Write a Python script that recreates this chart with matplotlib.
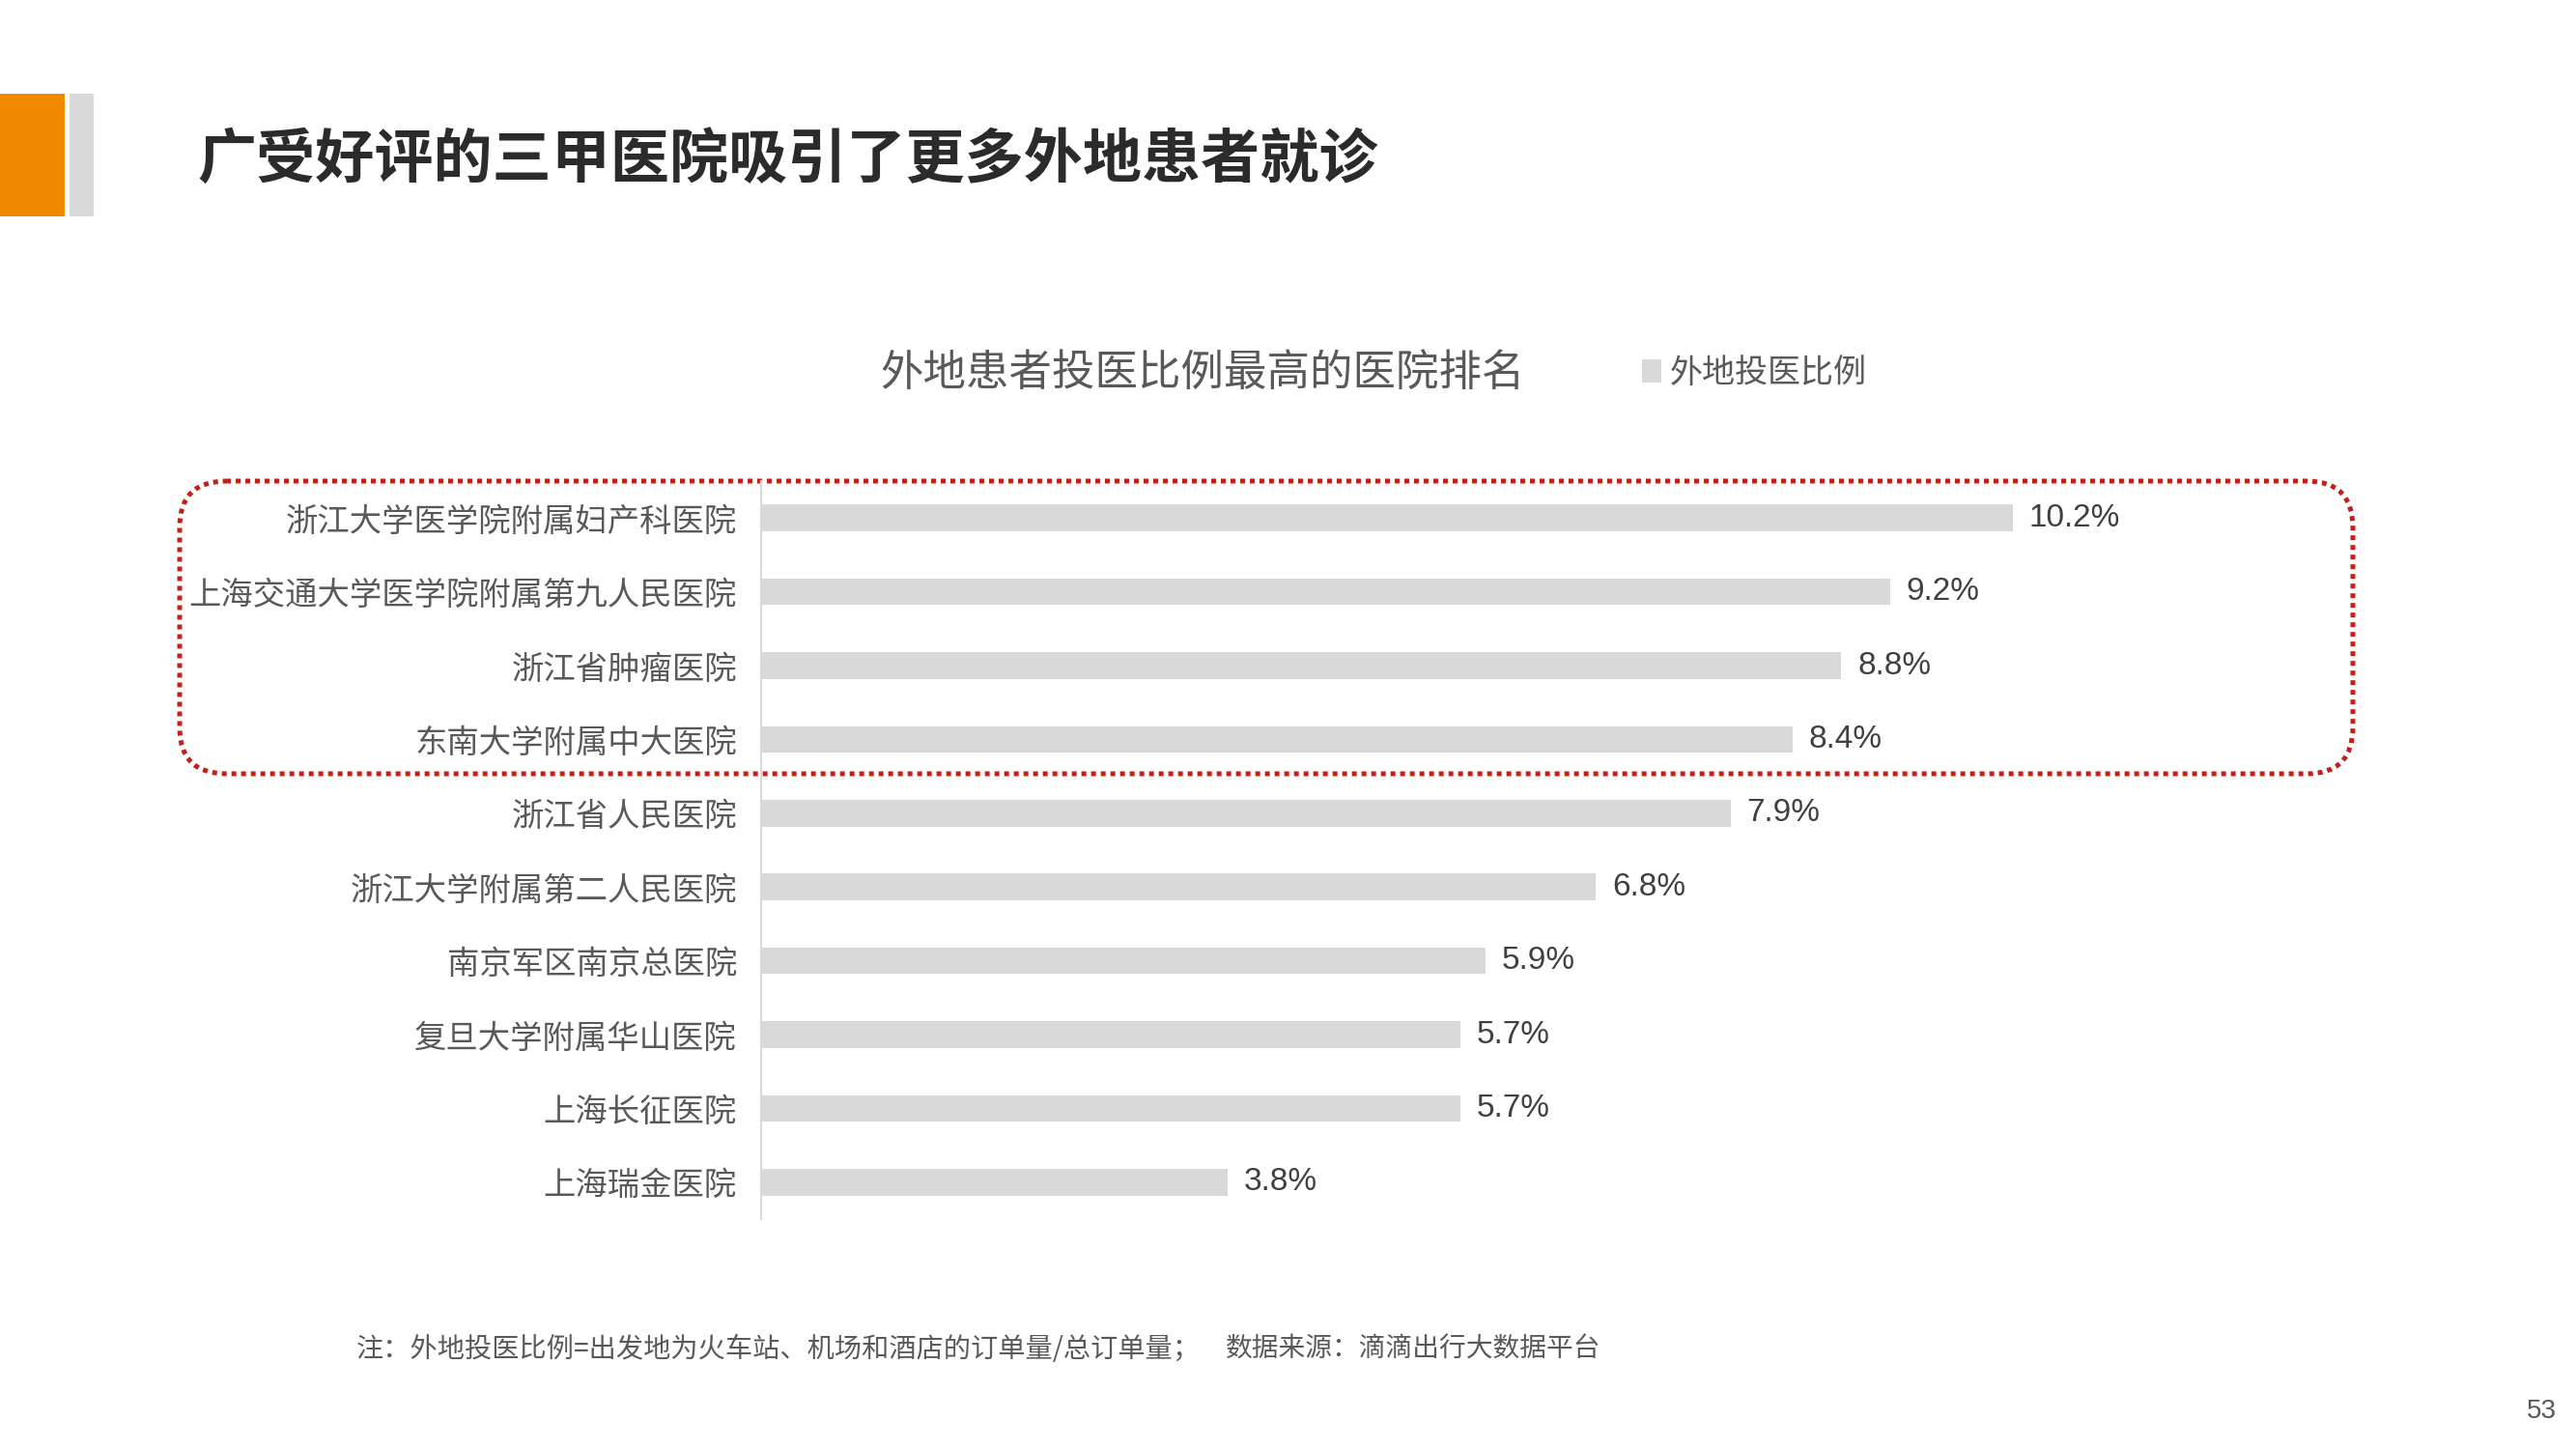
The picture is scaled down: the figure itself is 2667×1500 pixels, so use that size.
"""
Slide 53: hospitals with the highest share of non-local patients.
Output: out.png (2667 x 1500)
"""

import matplotlib.pyplot as plt
from matplotlib.patches import FancyBboxPatch, Rectangle

plt.rcParams["font.family"] = ["Noto Sans CJK SC", "DejaVu Sans"]

W, H = 2667, 1500
DPI = 100

hospitals = [
    "浙江大学医学院附属妇产科医院",
    "上海交通大学医学院附属第九人民医院",
    "浙江省肿瘤医院",
    "东南大学附属中大医院",
    "浙江省人民医院",
    "浙江大学附属第二人民医院",
    "南京军区南京总医院",
    "复旦大学附属华山医院",
    "上海长征医院",
    "上海瑞金医院",
]
share = [10.2, 9.2, 8.8, 8.4, 7.9, 6.8, 5.9, 5.7, 5.7, 3.8]

TITLE = "广受好评的三甲医院吸引了更多外地患者就诊"
CHART_TITLE = "外地患者投医比例最高的医院排名"
SERIES = "外地投医比例"
NOTE = "注：外地投医比例=出发地为火车站、机场和酒店的订单量/总订单量；"
SOURCE = "数据来源：滴滴出行大数据平台"
PAGE = "53"

TEXT = "#595959"
BAR = "#d9d9d9"


def fx(px):
    return px / W


def fy(py):
    return 1 - py / H


fig = plt.figure(figsize=(W / DPI, H / DPI), dpi=DPI)

# background layer in pixel coordinates
bg = fig.add_axes([0, 0, 1, 1])
bg.set_xlim(0, W)
bg.set_ylim(H, 0)
bg.axis("off")

bg.add_patch(Rectangle((0, 97), 67, 127, color="#f28a00", lw=0))
bg.add_patch(Rectangle((72, 97), 25, 127, color="#d9d9d9", lw=0))
bg.text(204, 167, TITLE, fontsize=44, fontweight="bold", color="#2b2b2b",
        ha="left", va="center")

bg.text(1245, 386, CHART_TITLE, fontsize=32, color=TEXT, ha="center", va="center")

# dotted highlight box round the top four
bg.add_patch(FancyBboxPatch((186, 498), 2250, 303,
                            boxstyle="round,pad=0,rounding_size=48",
                            fill=False, edgecolor="#c0211b", linewidth=3.6,
                            linestyle=(0, (1, 1))))

bg.text(369, 1397, NOTE, fontsize=20.3, color=TEXT, ha="left", va="center")
bg.text(1269, 1397, SOURCE, fontsize=20, color=TEXT, ha="left", va="center")
bg.text(2647, 1461, PAGE, fontsize=20, color=TEXT, ha="right", va="center",
        family=["Liberation Sans", "DejaVu Sans"])

# bar chart
left, right, top, bottom = 788, 2436, 498, 1262
ax = fig.add_axes([fx(left), fy(bottom), fx(right - left), (bottom - top) / H])
ax.patch.set_alpha(0)
ypos = list(range(len(hospitals)))
bars = ax.barh(ypos, share, height=0.36, color=BAR, label=SERIES)
ax.set_xlim(0, (right - left) / 127.1)
ax.set_ylim(len(hospitals) - 0.5, -0.5)
ax.set_yticks(ypos)
ax.set_yticklabels(hospitals, fontsize=24, color=TEXT)
ax.tick_params(axis="y", length=0, pad=18)
ax.set_xticks([])
for side in ("top", "right", "bottom"):
    ax.spines[side].set_visible(False)
ax.spines["left"].set_color(BAR)
ax.spines["left"].set_linewidth(1.5)

for y, v in zip(ypos, share):
    ax.text(v + 0.13, y, f"{v:.1f}%", fontsize=24, color="#404040",
            ha="left", va="center", family=["Liberation Sans", "DejaVu Sans"])

ax.legend(loc="center left", bbox_to_anchor=(fx(1700), fy(386)),
          bbox_transform=fig.transFigure, frameon=False, fontsize=24.5,
          handlelength=0.6, handleheight=0.7, handletextpad=0.25,
          borderpad=0, borderaxespad=0, labelcolor=TEXT)

fig.savefig("out.png", dpi=DPI)
